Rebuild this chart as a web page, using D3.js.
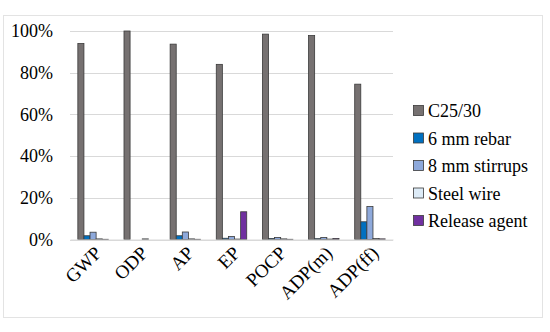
<!DOCTYPE html>
<html>
<head>
<meta charset="utf-8">
<script src="https://cdn.jsdelivr.net/npm/d3@7"></script>
<style>
  body { margin: 0; background: #fff; }
</style>
</head>
<body>
<div id="chart"></div>
<script>
// categories and series
var categories = ['GWP', 'ODP', 'AP', 'EP', 'POCP', 'ADP(m)', 'ADP(ff)'];
var seriesNames = ['C25/30', '6 mm rebar', '8 mm stirrups', 'Steel wire', 'Release agent'];
var colors = ['#767171', '#0070C0', '#8EA9DB', '#DDEBF7', '#7030A0'];

// values in percent, one array per series
var c2530 = [94.0, 100.0, 93.7, 84.0, 98.5, 97.8, 74.5];
var rebar = [1.8, 0.0, 1.8, 0.6, 0.5, 0.4, 8.5];
var stirrups = [3.5, 0.0, 3.6, 1.4, 1.0, 1.0, 15.8];
var steelWire = [0.3, 0.3, 0.3, 0.2, 0.3, 0.2, 0.5];
var releaseAgent = [0.1, 0.0, 0.1, 13.3, 0.1, 0.5, 0.3];
var yTicks = [0, 20, 40, 60, 80, 100];

var values = [c2530, rebar, stirrups, steelWire, releaseAgent];

var FONT = "'Liberation Serif', 'Tinos', 'Times New Roman', 'DejaVu Serif', serif";

var width = 550, height = 332;
var margin = { left: 70, right: 157, top: 31, bottom: 92 };

var svg = d3.select('#chart').append('svg')
  .attr('width', width)
  .attr('height', height)
  .attr('font-family', FONT);

// outer frame
svg.append('rect')
  .attr('x', 3.5).attr('y', 15.5)
  .attr('width', 539).attr('height', 302)
  .attr('fill', 'none')
  .attr('stroke', '#e3e3e3');

var x0 = d3.scaleBand()
  .domain(categories)
  .range([margin.left, width - margin.right])
  .paddingInner(0.34)
  .paddingOuter(0.17);

var x1 = d3.scaleBand()
  .domain(d3.range(seriesNames.length))
  .range([0, x0.bandwidth()]);

var y = d3.scaleLinear()
  .domain([0, 100])
  .range([height - margin.bottom - 0.5, margin.top]);

// gridlines
svg.append('g')
  .selectAll('line')
  .data(yTicks)
  .enter()
  .append('line')
  .attr('x1', margin.left)
  .attr('x2', width - margin.right)
  .attr('y1', function (d) { return Math.round(y(d)) + 0.5; })
  .attr('y2', function (d) { return Math.round(y(d)) + 0.5; })
  .attr('stroke', '#d9d9d9');

// y axis labels
var yAxis = d3.axisLeft(y)
  .tickValues(yTicks)
  .tickSize(0)
  .tickPadding(0)
  .tickFormat(function (d) { return d + '%'; });

var gy = svg.append('g')
  .attr('transform', 'translate(' + (margin.left - 17) + ',0)')
  .call(yAxis)
  .attr('font-family', FONT)
  .attr('font-size', 18);
gy.select('.domain').remove();

// bars
var groups = svg.append('g')
  .selectAll('g')
  .data(categories)
  .enter()
  .append('g')
  .attr('transform', function (d) { return 'translate(' + x0(d) + ',0)'; });

groups.selectAll('rect')
  .data(function (d, i) {
    return values.map(function (s, j) { return { s: j, v: s[i] }; });
  })
  .enter()
  .append('rect')
  .attr('x', function (d) { return x1(d.s); })
  .attr('y', function (d) { return y(d.v); })
  .attr('width', x1.bandwidth())
  .attr('height', function (d) { return y(0) - y(d.v); })
  .attr('fill', function (d) { return colors[d.s]; })
  .attr('stroke', function (d) { return d.v > 0 ? '#3a3a3a' : 'none'; })
  .attr('stroke-width', 0.8);

// x axis
var xAxis = d3.axisBottom(x0).tickSize(0).tickPadding(0);
var gx = svg.append('g')
  .attr('transform', 'translate(0,' + y(0) + ')')
  .call(xAxis)
  .attr('font-family', FONT)
  .attr('font-size', 19);
gx.select('.domain')
  .attr('stroke', '#d9d9d9');
gx.selectAll('text')
  .attr('text-anchor', 'end')
  .attr('dy', '0.35em')
  .attr('transform', 'translate(5,10) rotate(-45)');

// legend
var legend = svg.append('g')
  .selectAll('g')
  .data(seriesNames)
  .enter()
  .append('g')
  .attr('transform', function (d, i) { return 'translate(413,' + (111 + i * 27.5) + ')'; });

legend.append('rect')
  .attr('x', 0.5).attr('y', -5.5)
  .attr('width', 10).attr('height', 10)
  .attr('fill', function (d, i) { return colors[i]; })
  .attr('stroke', '#3a3a3a')
  .attr('stroke-width', 0.8);

legend.append('text')
  .attr('x', 15)
  .attr('dy', '0.35em')
  .attr('font-size', 18)
  .text(function (d) { return d; });
</script>
</body>
</html>
